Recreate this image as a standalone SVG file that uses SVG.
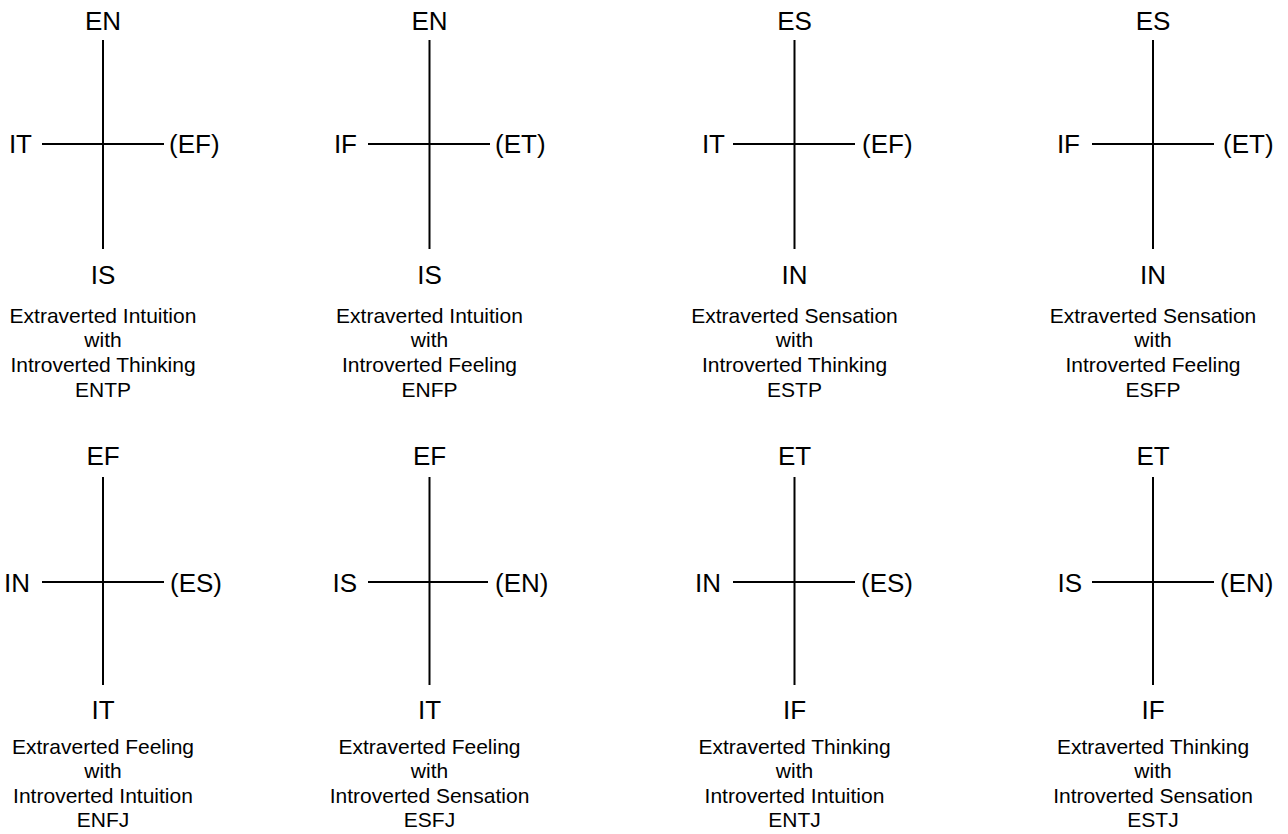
<svg xmlns="http://www.w3.org/2000/svg" width="1288" height="834" viewBox="0 0 1288 834">
<style>
.ln{stroke:#000;stroke-width:2;fill:none}
.lb{font-family:"Liberation Sans",Arial,sans-serif;font-size:26px;fill:#000}
.c{text-anchor:middle}
.e{text-anchor:end}
.d{font-family:"Liberation Sans",Arial,sans-serif;font-size:21px;fill:#000;text-anchor:middle}
</style>
<rect width="1288" height="834" fill="#fff"/>
<g id="connectors">
<path class="ln" d="M103 40V249M42 144H164"/>
<path class="ln" d="M429.5 40V249M368 144H490"/>
<path class="ln" d="M794.5 40V249M733 144H855"/>
<path class="ln" d="M1153 40V249M1092 144H1214"/>
<path class="ln" d="M103 477V685M42 582H164"/>
<path class="ln" d="M429.5 477V685M368 582H488"/>
<path class="ln" d="M794.5 477V685M733 582H855"/>
<path class="ln" d="M1153 477V685M1092 582H1214"/>
</g>
<g id="entp">
<text class="lb c" x="103" y="30">EN</text>
<text class="lb e" x="32" y="153">IT</text>
<text class="lb" x="169" y="153">(EF)</text>
<text class="lb c" x="103" y="284">IS</text>
<text class="d" x="103" y="323">Extraverted Intuition</text>
<text class="d" x="103" y="347">with</text>
<text class="d" x="103" y="372">Introverted Thinking</text>
<text class="d" x="103" y="397">ENTP</text>
</g>
<g id="enfp">
<text class="lb c" x="429.5" y="30">EN</text>
<text class="lb e" x="357" y="153">IF</text>
<text class="lb" x="495" y="153">(ET)</text>
<text class="lb c" x="429.5" y="284">IS</text>
<text class="d" x="429.5" y="323">Extraverted Intuition</text>
<text class="d" x="429.5" y="347">with</text>
<text class="d" x="429.5" y="372">Introverted Feeling</text>
<text class="d" x="429.5" y="397">ENFP</text>
</g>
<g id="estp">
<text class="lb c" x="794.5" y="30">ES</text>
<text class="lb e" x="725" y="153">IT</text>
<text class="lb" x="862" y="153">(EF)</text>
<text class="lb c" x="794.5" y="284">IN</text>
<text class="d" x="794.5" y="323">Extraverted Sensation</text>
<text class="d" x="794.5" y="347">with</text>
<text class="d" x="794.5" y="372">Introverted Thinking</text>
<text class="d" x="794.5" y="397">ESTP</text>
</g>
<g id="esfp">
<text class="lb c" x="1153" y="30">ES</text>
<text class="lb e" x="1080" y="153">IF</text>
<text class="lb" x="1223" y="153">(ET)</text>
<text class="lb c" x="1153" y="284">IN</text>
<text class="d" x="1153" y="323">Extraverted Sensation</text>
<text class="d" x="1153" y="347">with</text>
<text class="d" x="1153" y="372">Introverted Feeling</text>
<text class="d" x="1153" y="397">ESFP</text>
</g>
<g id="enfj">
<text class="lb c" x="103" y="465">EF</text>
<text class="lb e" x="30" y="592">IN</text>
<text class="lb" x="170" y="592">(ES)</text>
<text class="lb c" x="103" y="719">IT</text>
<text class="d" x="103" y="754">Extraverted Feeling</text>
<text class="d" x="103" y="778">with</text>
<text class="d" x="103" y="803">Introverted Intuition</text>
<text class="d" x="103" y="827">ENFJ</text>
</g>
<g id="esfj">
<text class="lb c" x="429.5" y="465">EF</text>
<text class="lb e" x="357" y="592">IS</text>
<text class="lb" x="495" y="592">(EN)</text>
<text class="lb c" x="429.5" y="719">IT</text>
<text class="d" x="429.5" y="754">Extraverted Feeling</text>
<text class="d" x="429.5" y="778">with</text>
<text class="d" x="429.5" y="803">Introverted Sensation</text>
<text class="d" x="429.5" y="827">ESFJ</text>
</g>
<g id="entj">
<text class="lb c" x="794.5" y="465">ET</text>
<text class="lb e" x="721" y="592">IN</text>
<text class="lb" x="861" y="592">(ES)</text>
<text class="lb c" x="794.5" y="719">IF</text>
<text class="d" x="794.5" y="754">Extraverted Thinking</text>
<text class="d" x="794.5" y="778">with</text>
<text class="d" x="794.5" y="803">Introverted Intuition</text>
<text class="d" x="794.5" y="827">ENTJ</text>
</g>
<g id="estj">
<text class="lb c" x="1153" y="465">ET</text>
<text class="lb e" x="1082" y="592">IS</text>
<text class="lb" x="1220" y="592">(EN)</text>
<text class="lb c" x="1153" y="719">IF</text>
<text class="d" x="1153" y="754">Extraverted Thinking</text>
<text class="d" x="1153" y="778">with</text>
<text class="d" x="1153" y="803">Introverted Sensation</text>
<text class="d" x="1153" y="827">ESTJ</text>
</g>
</svg>
